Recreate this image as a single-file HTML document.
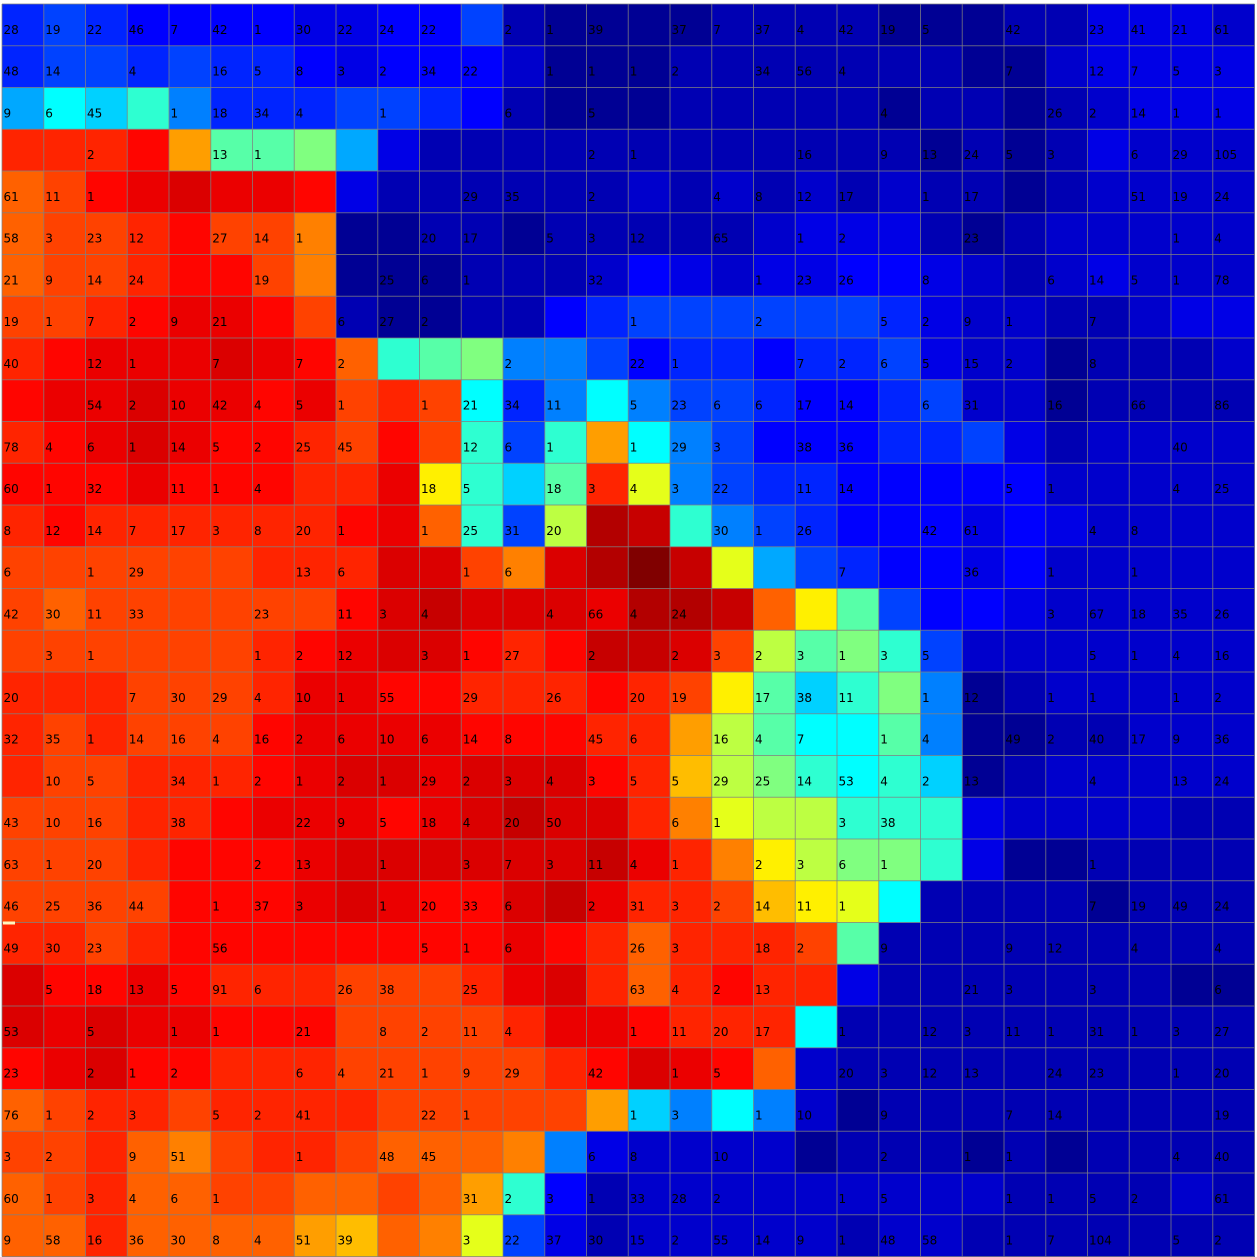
<!DOCTYPE html>
<html><head><meta charset="utf-8">
<style>
html,body{margin:0;padding:0;background:#fff;width:1257px;height:1257px;overflow:hidden}
svg{display:block}
text{font-family:"DejaVu Sans","Liberation Sans",sans-serif;font-size:12px;fill:#000}
</style></head>
<body>
<svg id="chart" width="1257" height="1257" viewBox="0 0 1257 1257" xmlns="http://www.w3.org/2000/svg"></svg>
<script>
// Color level per cell (jet colormap index codes), one string per row (30 codes each)
const levelRows = [
"565444433446"+"100001111000"+"113332",
"566565543444"+"200011111110"+"023333",
"8a9b75556654"+"100011111011"+"012333",
"mmmniccd8311"+"111111111101"+"013222",
"klnopoon3111"+"111212121211"+"012222",
"kllmnllj0011"+"011111233310"+"122222",
"kllmnnlj0001"+"112432334432"+"123222",
"llmnoonl1001"+"145666666532"+"211233",
"mnoooponkbcd"+"776455455632"+"201112",
"noopoonolmla"+"57a766544562"+"201111",
"mnoponnmlnlb"+"6bia76444556"+"312222",
"nnnonnnmmogb"+"9cmf76554444"+"422222",
"mnmmmmmmnokb"+"6esqb7654443"+"432222",
"llllllmmmppl"+"jpsrqf865443"+"422222",
"lkllllllnpqp"+"ppossqkgc644"+"322222",
"llllllmnoppn"+"mnqqplecdb62"+"222222",
"mmmlllmoonnm"+"mmnmlgc9bd70"+"122222",
"mlmlllnoooon"+"nnmmiecaac70"+"011222",
"mllmmmnoppop"+"ppnmhedbab90"+"122222",
"lllmmnooonop"+"qppmjfeebbb3"+"222211",
"lllmnnnopppp"+"ppqomjgeddb3"+"001111",
"llllnnnoponn"+"pqommlhgfa11"+"110111",
"mmlmnnnnnnnn"+"onmkmmmlc111"+"111111",
"pnnonmmmlllm"+"opmkmnmm3111"+"111100",
"popoonnnllll"+"moonmmma1111"+"111111",
"nopnnmmmllll"+"lmnponk21111"+"111111",
"klmmlmmmmlll"+"lli97a720111"+"111111",
"llmkjlmmlkkk"+"j73222201110"+"101111",
"klmkkllkklki"+"b41222222222"+"111121",
"kkmkkkkihkjf"+"631222221221"+"111111"
];
// Printed labels per row ('' = empty cell)
const labels0=["28","19","22","46","7","42","1","30","22","24","22","","2","1","39","","37","7","37","4","42","19","5","","42","","23","41","21","61"];
const labels1=["48","14","","4","","16","5","8","3","2","34","22","","1","1","1","2","","34","56","4","","","","7","","12","7","5","3"];
const labels2=["9","6","45","","1","18","34","4","","1","","","6","","5","","","","","","","4","","","","26","2","14","1","1"];
const labels3=["","","2","","","13","1","","","","","","","","2","1","","","","16","","9","13","24","5","3","","6","29","105"];
const labels4=["61","11","1","","","","","","","","","29","35","","2","","","4","8","12","17","","1","17","","","","51","19","24"];
const labels5=["58","3","23","12","","27","14","1","","","20","17","","5","3","12","","65","","1","2","","","23","","","","","1","4"];
const labels6=["21","9","14","24","","","19","","","25","6","1","","","32","","","","1","23","26","","8","","","6","14","5","1","78"];
const labels7=["19","1","7","2","9","21","","","6","27","2","","","","","1","","","2","","","5","2","9","1","","7","","",""];
const labels8=["40","","12","1","","7","","7","2","","","","2","","","22","1","","","7","2","6","5","15","2","","8","","",""];
const labels9=["","","54","2","10","42","4","5","1","","1","21","34","11","","5","23","6","6","17","14","","6","31","","16","","66","","86"];
const labels10=["78","4","6","1","14","5","2","25","45","","","12","6","1","","1","29","3","","38","36","","","","","","","","40",""];
const labels11=["60","1","32","","11","1","4","","","","18","5","","18","3","4","3","22","","11","14","","","","5","1","","","4","25"];
const labels12=["8","12","14","7","17","3","8","20","1","","1","25","31","20","","","","30","1","26","","","42","61","","","4","8","",""];
const labels13=["6","","1","29","","","","13","6","","","1","6","","","","","","","","7","","","36","","1","","1","",""];
const labels14=["42","30","11","33","","","23","","11","3","4","","","4","66","4","24","","","","","","","","","3","67","18","35","26"];
const labels15=["","3","1","","","","1","2","12","","3","1","27","","2","","2","3","2","3","1","3","5","","","","5","1","4","16"];
const labels16=["20","","","7","30","29","4","10","1","55","","29","","26","","20","19","","17","38","11","","1","12","","1","1","","1","2"];
const labels17=["32","35","1","14","16","4","16","2","6","10","6","14","8","","45","6","","16","4","7","","1","4","","49","2","40","17","9","36"];
const labels18=["","10","5","","34","1","2","1","2","1","29","2","3","4","3","5","5","29","25","14","53","4","2","13","","","4","","13","24"];
const labels19=["43","10","16","","38","","","22","9","5","18","4","20","50","","","6","1","","","3","38","","","","","","","",""];
const labels20=["63","1","20","","","","2","13","","1","","3","7","3","11","4","1","","2","3","6","1","","","","","1","","",""];
const labels21=["46","25","36","44","","1","37","3","","1","20","33","6","","2","31","3","2","14","11","1","","","","","","7","19","49","24"];
const labels22=["49","30","23","","","56","","","","","5","1","6","","","26","3","","18","2","","9","","","9","12","","4","","4"];
const labels23=["","5","18","13","5","91","6","","26","38","","25","","","","63","4","2","13","","","","","21","3","","3","","","6"];
const labels24=["53","","5","","1","1","","21","","8","2","11","4","","","1","11","20","17","","1","","12","3","11","1","31","1","3","27"];
const labels25=["23","","2","1","2","","","6","4","21","1","9","29","","42","","1","5","","","20","3","12","13","","24","23","","1","20"];
const labels26=["76","1","2","3","","5","2","41","","","22","1","","","","1","3","","1","10","","9","","","7","14","","","","19"];
const labels27=["3","2","","9","51","","","1","","48","45","","","","6","8","","10","","","","2","","1","1","","","","4","40"];
const labels28=["60","1","3","4","6","1","","","","","","31","2","3","1","33","28","2","","","1","5","","","1","1","5","2","","61"];
const labels29=["9","58","16","36","30","8","4","51","39","","","3","22","37","30","15","2","55","14","9","1","48","58","","1","7","104","","5","2"];
const labelRows=[labels0,labels1,labels2,labels3,labels4,labels5,labels6,labels7,labels8,labels9,labels10,labels11,labels12,labels13,labels14,labels15,labels16,labels17,labels18,labels19,labels20,labels21,labels22,labels23,labels24,labels25,labels26,labels27,labels28,labels29];
const levelCodes = "0123456789abcdefghijklmnopqsr";
const levelValues = [0.02,0.05,0.075,0.10,0.125,0.16,0.19,0.25,0.29,0.33,0.375,0.42,0.46,0.5,0.56,0.6,0.64,0.69,0.72,0.75,0.78,0.81,0.84,0.87,0.895,0.91,0.93,0.95,1.0];

const NS="http://www.w3.org/2000/svg";
const svg=document.getElementById('chart');
const N=30, x0=2, y0=4, cw=41.75, ch=41.75;
function xPos(c){return x0+c*cw;}
function yPos(r){return y0+r*ch;}
function clamp(t){return Math.max(0,Math.min(1,t));}
function jet(v){
  const r=clamp(Math.min(4*v-1.5,-4*v+4.5));
  const g=clamp(Math.min(4*v-0.5,-4*v+3.5));
  const b=clamp(Math.min(4*v+0.5,-4*v+2.5));
  return `rgb(${Math.round(r*255)},${Math.round(g*255)},${Math.round(b*255)})`;
}
const cellsG=document.createElementNS(NS,'g');


svg.appendChild(cellsG);
for(let r=0;r<N;r++){
  const codes=levelRows[r];
  for(let c=0;c<N;c++){
    let idx=levelCodes.indexOf(codes[c]||'1'); if(idx<0) idx=1;
    const rect=document.createElementNS(NS,'rect');
    rect.setAttribute('x',xPos(c)); rect.setAttribute('y',yPos(r));
    rect.setAttribute('width',cw+0.5); rect.setAttribute('height',ch+0.5);
    rect.setAttribute('fill',jet(levelValues[idx]));
    
    
    cellsG.appendChild(rect);
  }
}
const gridG=document.createElementNS(NS,'g');


svg.appendChild(gridG);
for(let i=0;i<=N;i++){
  const v=document.createElementNS(NS,'line');
  v.setAttribute('x1',xPos(i)); v.setAttribute('x2',xPos(i));
  v.setAttribute('y1',y0); v.setAttribute('y2',yPos(N));
  v.setAttribute('stroke','rgba(128,128,128,0.75)'); v.setAttribute('stroke-width','1');
  
  
  gridG.appendChild(v);
  const h=document.createElementNS(NS,'line');
  h.setAttribute('y1',yPos(i)); h.setAttribute('y2',yPos(i));
  h.setAttribute('x1',x0); h.setAttribute('x2',xPos(N));
  h.setAttribute('stroke','rgba(128,128,128,0.75)'); h.setAttribute('stroke-width','1');
  
  
  gridG.appendChild(h);
}
const textG=document.createElementNS(NS,'g');


svg.appendChild(textG);
for(let r=0;r<N;r++){
  for(let c=0;c<N;c++){
    const lab=labelRows[r][c];
    if(!lab) continue;
    const t=document.createElementNS(NS,'text');
    t.setAttribute('x',xPos(c)+1.5);
    t.setAttribute('y',yPos(r)+ch/2+9);
    t.textContent=lab;
    
    
    textG.appendChild(t);
  }
}
const mark=document.createElementNS(NS,'rect');
mark.setAttribute('x',3); mark.setAttribute('y',921.5);
mark.setAttribute('width',12); mark.setAttribute('height',3);
mark.setAttribute('fill','#fff8c0');


svg.appendChild(mark);
</script>
</body></html>
